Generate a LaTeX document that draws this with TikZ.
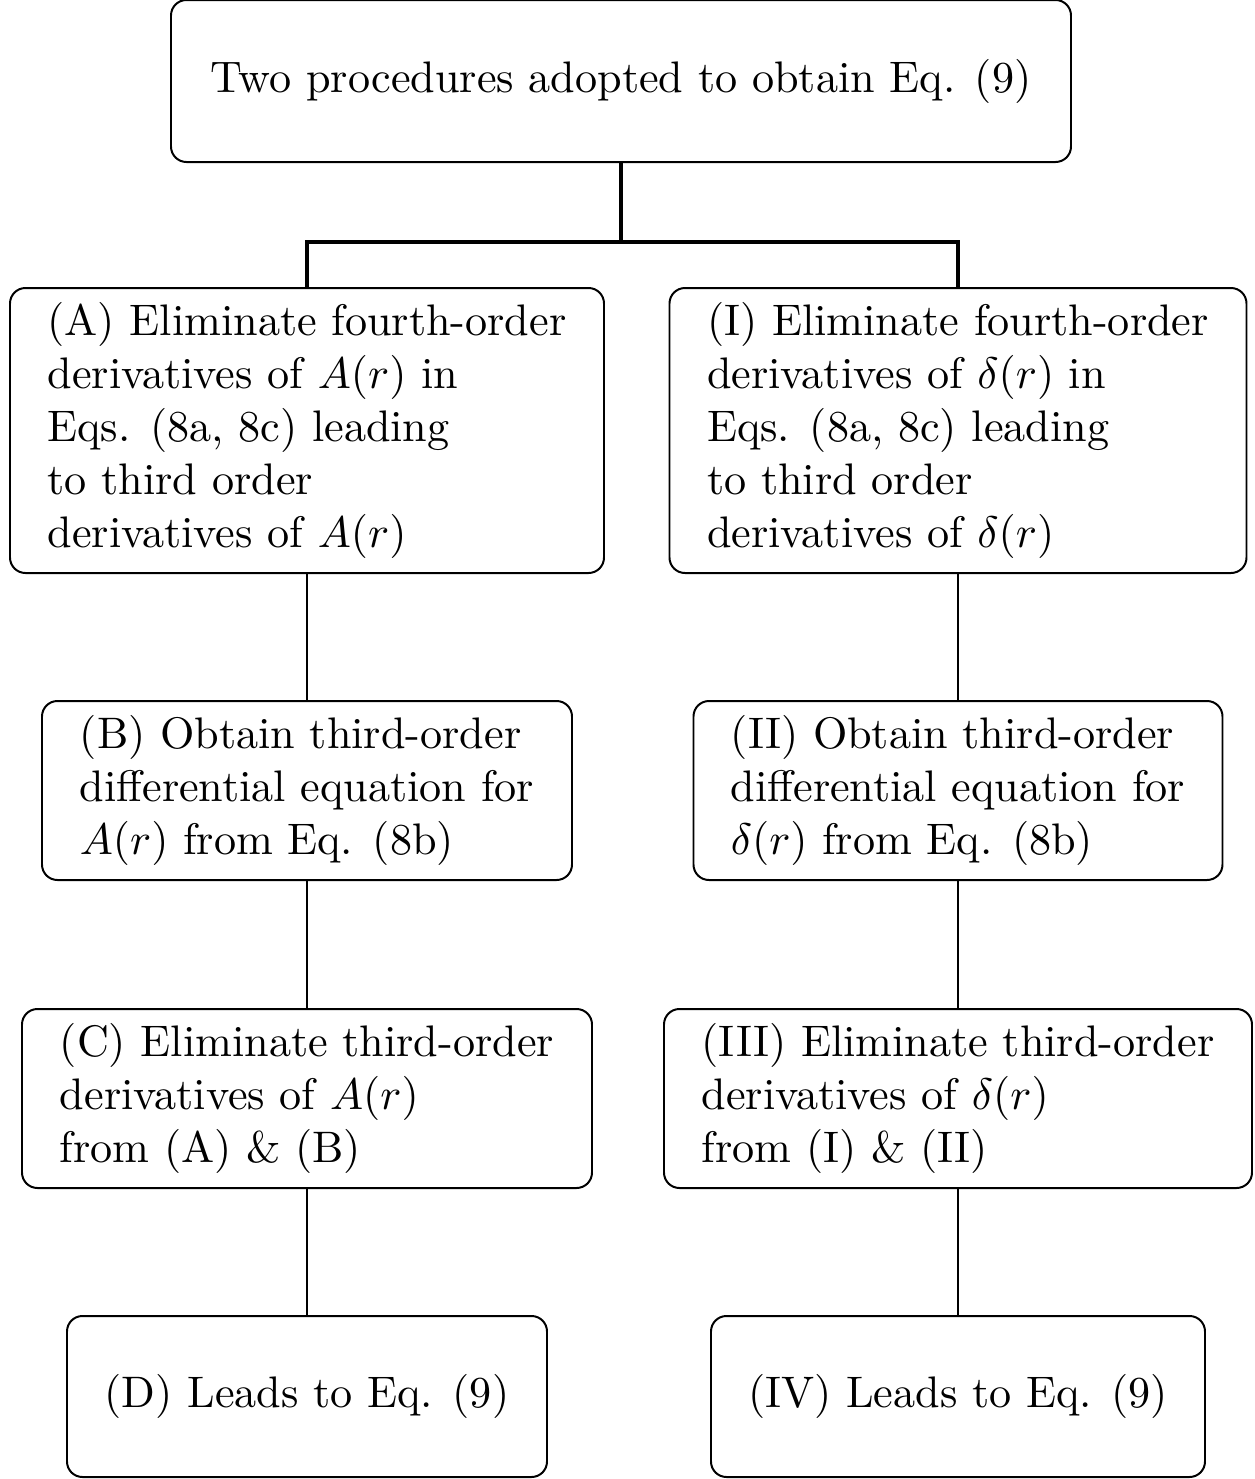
\documentclass[tikz,border=0pt]{standalone}
\begin{document}
\begin{tikzpicture}[x=0.2264pt,y=-0.2264pt,
  box/.style={draw,line width=0.45pt,rounded corners=3.5pt,align=left,inner sep=0pt,font=\fontsize{10}{12}\selectfont},
  thin/.style={line width=0.4pt},
  thick/.style={line width=0.8pt}]
\useasboundingbox (0,0) rectangle (1255,1479);
\node[box,minimum width=900*0.2264pt,minimum height=162*0.2264pt,align=center] (top) at (621,81) {Two procedures adopted to obtain Eq. (9)};
\node[box,minimum width=594*0.2264pt,minimum height=285*0.2264pt] (A) at (307,430.5) {(A) Eliminate fourth-order\\derivatives of $A(r)$ in\\Eqs. (8a, 8c) leading\\to third order\\derivatives of $A(r)$};
\node[box,minimum width=577*0.2264pt,minimum height=285*0.2264pt] (I) at (958,430.5) {(I) Eliminate fourth-order\\derivatives of $\delta(r)$ in\\Eqs. (8a, 8c) leading\\to third order\\derivatives of $\delta(r)$};
\node[box,minimum width=530*0.2264pt,minimum height=179*0.2264pt] (B) at (307,790.5) {(B) Obtain third-order\\differential equation for\\$A(r)$ from Eq. (8b)};
\node[box,minimum width=529*0.2264pt,minimum height=179*0.2264pt] (II) at (958,790.5) {(II) Obtain third-order\\differential equation for\\$\delta(r)$ from Eq. (8b)};
\node[box,minimum width=570*0.2264pt,minimum height=179*0.2264pt] (C) at (307,1098.5) {(C) Eliminate third-order\\derivatives of $A(r)$\\from (A) \& (B)};
\node[box,minimum width=588*0.2264pt,minimum height=179*0.2264pt] (III) at (958,1098.5) {(III) Eliminate third-order\\derivatives of $\delta(r)$\\from (I) \& (II)};
\node[box,minimum width=480*0.2264pt,minimum height=161*0.2264pt,align=center] (D) at (307,1396.5) {(D) Leads to Eq. (9)};
\node[box,minimum width=494*0.2264pt,minimum height=161*0.2264pt,align=center] (IV) at (958,1396.5) {(IV) Leads to Eq. (9)};
\coordinate (split) at (621,242);
\draw[thick] (top.south) -- (split);
\draw[thick] (split) -| (A.north);
\draw[thick] (split) -| (I.north);
\draw[thin] (A.south) -- (B.north);
\draw[thin] (B.south) -- (C.north);
\draw[thin] (C.south) -- (D.north);
\draw[thin] (I.south) -- (II.north);
\draw[thin] (II.south) -- (III.north);
\draw[thin] (III.south) -- (IV.north);
\end{tikzpicture}
\end{document}
